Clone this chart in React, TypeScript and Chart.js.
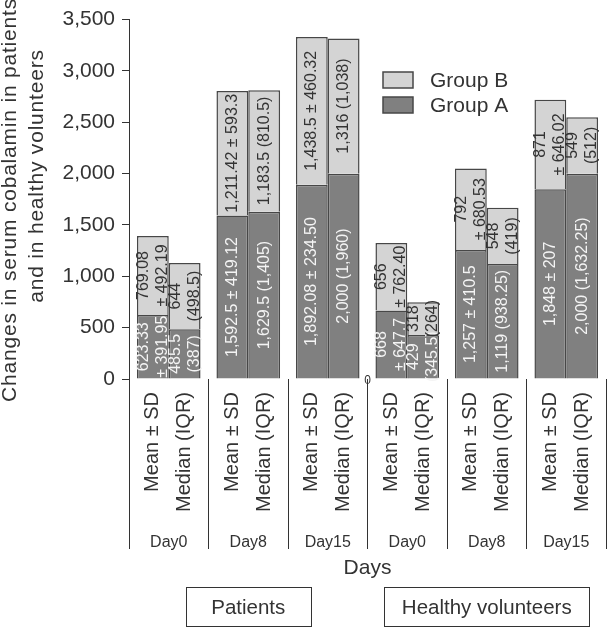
import React, { useEffect, useRef } from 'react';
import { Chart, registerables } from 'chart.js';

Chart.register(...registerables);

const categories = ['Day0', 'Day8', 'Day15', 'Day0', 'Day8', 'Day15'];
const groupNames = ['Patients', 'Healthy volunteers'];
const statNames = ['Mean ± SD', 'Median (IQR)'];
const legendLabels = ['Group B', 'Group A'];
const yTitleLines = ['Changes in serum cobalamin in patients', 'and in healthy volunteers'];
const xTitle = 'Days';
const strayLabel = '0';

const yMax = 3500;
const yStep = 500;

const meanGroupA = [623.33, 1592.5, 1892.08, 668, 1257, 1848];
const meanGroupB = [769.08, 1211.42, 1438.5, 656, 792, 871];
const medianGroupA = [485.5, 1629.5, 2000, 429, 1119, 2000];
const medianGroupB = [644, 1183.5, 1316, 318, 548, 549];

const meanGroupALabels = [['623.33', '± 391.95'], ['1,592.5 ± 419.12'], ['1,892.08 ± 234.50'], ['668', '± 647.7'], ['1,257 ± 410.5'], ['1,848 ± 207']];
const meanGroupBLabels = [['769.08', '± 492.19'], ['1,211.42 ± 593.3'], ['1,438.5 ± 460.32'], ['656', '± 762.40'], ['792', '± 680.53'], ['871', '± 646.02']];
const medianGroupALabels = [['485.5', '(387)'], ['1,629.5 (1,405)'], ['2,000 (1,960)'], ['429', '(345.5)'], ['1,119 (938.25)'], ['2,000 (1,632.25)']];
const medianGroupBLabels = [['644', '(498.5)'], ['1,183.5 (810.5)'], ['1,316 (1,038)'], ['318', '(264)'], ['548', '(419)'], ['549', '(512)']];

const DARK = '#808080';
const LIGHT = '#d4d4d4';
const EDGE = '#474747';
const TEXT = '#333333';
const FONT = '"Liberation Sans", Arial, Helvetica, sans-serif';

const segmentLabels = [meanGroupALabels, meanGroupBLabels, medianGroupALabels, medianGroupBLabels];
const segmentTextColors = ['#f4f4f4', TEXT, '#f4f4f4', TEXT];

const annotationPlugin = {
  id: 'annotations',
  afterDatasetsDraw(chart: any) {
    const ctx = chart.ctx;
    // labels inside bar segments
    segmentLabels.forEach((labels, di) => {
      const meta = chart.getDatasetMeta(di);
      meta.data.forEach((el: any, i: number) => {
        const p = el.getProps(['x', 'y', 'base'], true);
        const cy = (p.y + p.base) / 2;
        const lines = labels[i];
        const lh = 19;
        ctx.save();
        ctx.translate(p.x, cy);
        ctx.rotate(-Math.PI / 2);
        ctx.font = `16px ${FONT}`;
        ctx.fillStyle = segmentTextColors[di];
        ctx.textAlign = 'center';
        ctx.textBaseline = 'middle';
        lines.forEach((ln, k) => ctx.fillText(ln, 0, (k - (lines.length - 1) / 2) * lh));
        ctx.restore();
      });
    });
  },
  afterDraw(chart: any) {
    const ctx = chart.ctx;
    const area = chart.chartArea;
    const xs = chart.scales.x;

    // stat names under bars
    [0, 2].forEach((di, si) => {
      const meta = chart.getDatasetMeta(di);
      meta.data.forEach((el: any) => {
        ctx.save();
        ctx.translate(el.x, area.bottom + 13);
        ctx.rotate(-Math.PI / 2);
        ctx.font = `20px ${FONT}`;
        ctx.fillStyle = TEXT;
        ctx.textAlign = 'right';
        ctx.textBaseline = 'middle';
        ctx.fillText(statNames[si], 0, 0);
        ctx.restore();
      });
    });

    // stray zero between groups
    const midX = (xs.getPixelForValue(2) + xs.getPixelForValue(3)) / 2;
    ctx.save();
    ctx.font = `12px ${FONT}`;
    ctx.fillStyle = TEXT;
    ctx.textAlign = 'center';
    ctx.textBaseline = 'middle';
    ctx.fillText(strayLabel, midX, area.bottom + 2);
    ctx.restore();

    // group boxes
    const boxW = [125, 205];
    [1, 4].forEach((ci, gi) => {
      const cx = xs.getPixelForValue(ci);
      ctx.save();
      ctx.strokeStyle = TEXT;
      ctx.lineWidth = 1;
      ctx.strokeRect(Math.round(cx - boxW[gi] / 2) + 0.5, 587.5, boxW[gi], 39);
      ctx.font = `20.5px ${FONT}`;
      ctx.fillStyle = TEXT;
      ctx.textAlign = 'center';
      ctx.textBaseline = 'middle';
      ctx.fillText(groupNames[gi], cx, 608);
      ctx.restore();
    });

    // legend
    const legendColors = [LIGHT, DARK];
    legendLabels.forEach((lab, k) => {
      const y = 72 + k * 25;
      ctx.save();
      ctx.fillStyle = legendColors[k];
      ctx.fillRect(383, y, 30, 16);
      ctx.strokeStyle = EDGE;
      ctx.lineWidth = 1.5;
      ctx.strokeRect(383, y, 30, 16);
      ctx.font = `21px ${FONT}`;
      ctx.fillStyle = TEXT;
      ctx.textAlign = 'left';
      ctx.textBaseline = 'middle';
      ctx.fillText(lab, 430, y + 9);
      ctx.restore();
    });

    // y axis title
    const yCenters = [200, 176];
    const xBase = [16, 43];
    yTitleLines.forEach((ln, k) => {
      ctx.save();
      ctx.translate(xBase[k], yCenters[k]);
      ctx.rotate(-Math.PI / 2);
      ctx.font = `21px ${FONT}`;
      (ctx as any).letterSpacing = '0.8px';
      ctx.fillStyle = TEXT;
      ctx.textAlign = 'center';
      ctx.textBaseline = 'alphabetic';
      ctx.fillText(ln, 0, 0);
      ctx.restore();
    });
  },
};

export default function App() {
  const ref = useRef<HTMLCanvasElement | null>(null);

  useEffect(() => {
    if (!ref.current) return;
    const chart = new Chart(ref.current, {
      type: 'bar',
      data: {
        labels: categories,
        datasets: [
          { label: legendLabels[1], stack: 'mean', data: meanGroupA, backgroundColor: DARK, borderColor: EDGE, borderWidth: 1.5 },
          { label: legendLabels[0], stack: 'mean', data: meanGroupB, backgroundColor: LIGHT, borderColor: EDGE, borderWidth: 1.5 },
          { label: legendLabels[1], stack: 'median', data: medianGroupA, backgroundColor: DARK, borderColor: EDGE, borderWidth: 1.5 },
          { label: legendLabels[0], stack: 'median', data: medianGroupB, backgroundColor: LIGHT, borderColor: EDGE, borderWidth: 1.5 },
        ],
      },
      options: {
        responsive: false,
        animation: false,
        layout: { padding: { top: 15, right: 1, left: 0, bottom: 0 } },
        datasets: { bar: { categoryPercentage: 0.8, barPercentage: 1 } },
        plugins: { legend: { display: false }, tooltip: { enabled: false } },
        scales: {
          x: {
            stacked: true,
            offset: true,
            afterFit: (s: any) => { s.height = 249; },
            grid: { display: true, drawOnChartArea: false, drawTicks: true, tickLength: 170, offset: true, color: TEXT, lineWidth: 1 },
            border: { display: false },
            ticks: { font: { family: FONT, size: 16 }, color: TEXT, padding: -16, maxRotation: 0, autoSkip: false },
            title: { display: true, text: xTitle, font: { family: FONT, size: 21 }, color: TEXT, padding: { top: 0, bottom: 47 } },
          },
          y: {
            stacked: true,
            min: 0,
            max: yMax,
            afterFit: (s: any) => { s.width = 129; },
            ticks: { stepSize: yStep, font: { family: FONT, size: 21 }, color: TEXT, padding: 7 },
            grid: { display: true, drawOnChartArea: false, drawTicks: true, tickLength: 7, color: TEXT },
            border: { display: true, color: TEXT, width: 1 },
          },
        },
      },
      plugins: [annotationPlugin],
    });
    return () => chart.destroy();
  }, []);

  return (
    <div style={{ position: 'absolute', left: 0, top: 0, width: 607, height: 628, background: '#fff' }}>
      <canvas ref={ref} width={607} height={628} style={{ display: 'block' }} />
    </div>
  );
}
